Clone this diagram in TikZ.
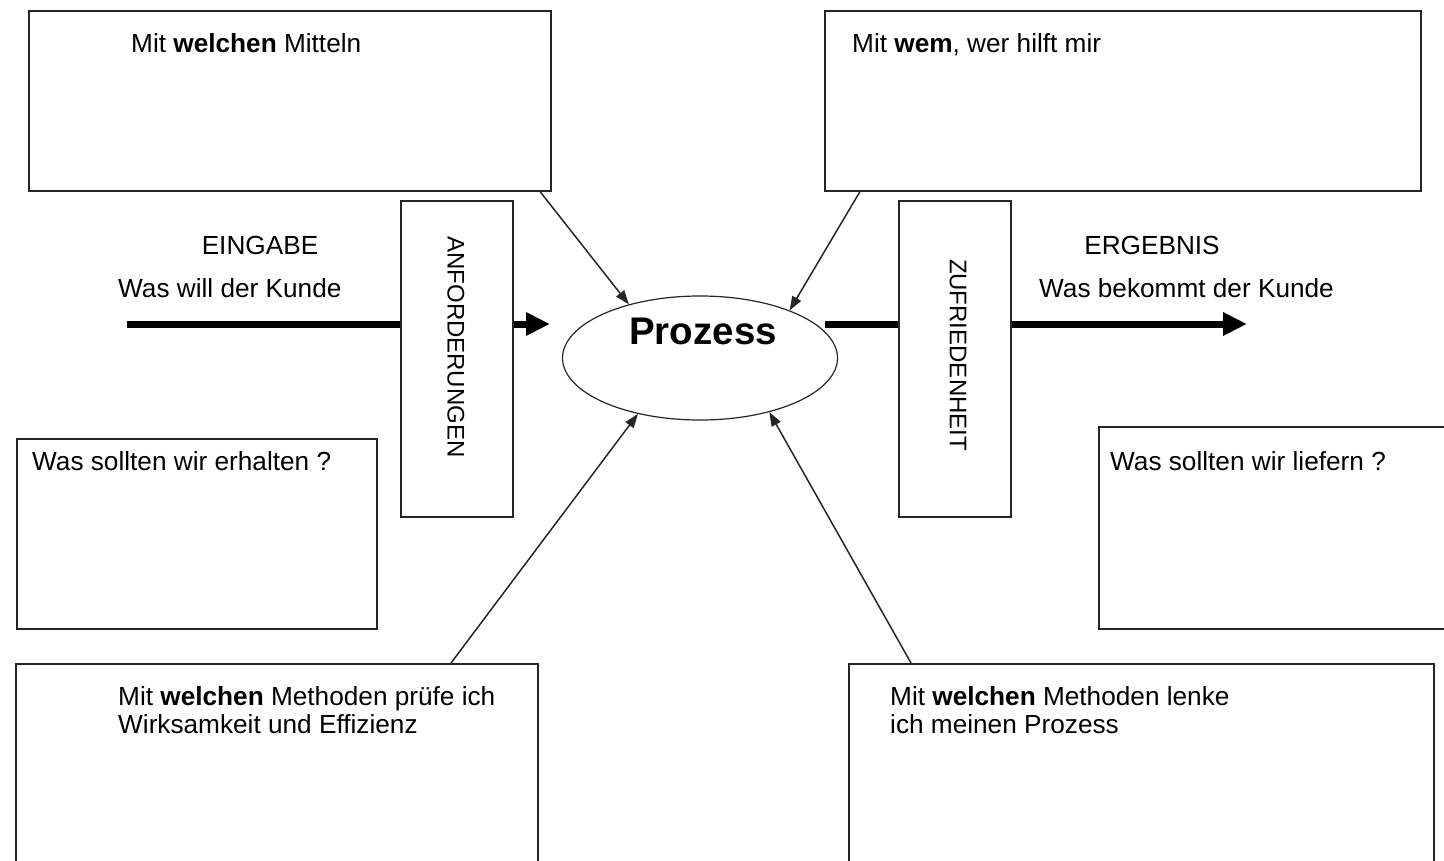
\documentclass[tikz,border=0pt]{standalone}
\usepackage{fontspec}
\setmainfont{Liberation Sans}
\usetikzlibrary{shapes.geometric,arrows.meta,calc}
\begin{document}
\begin{tikzpicture}[x=1pt,y=-1pt,
  box/.style={draw=black!85, line width=1.5pt, rectangle, inner sep=0pt, anchor=north west},
  txt/.style={anchor=base west, inner sep=0pt, font=\fontsize{26.2}{28}\selectfont},
  ctxt/.style={anchor=base, inner sep=0pt, font=\fontsize{26.2}{28}\selectfont},
  vtxt/.style={rotate=-90, inner sep=0pt, font=\fontsize{24}{26}\selectfont},
  thinarrow/.style={draw=black!85, line width=1.5pt, -{Triangle[length=14pt,width=10pt]}},
  thickline/.style={line width=7pt},
  thickarrow/.style={line width=7pt, -{Triangle[length=24pt,width=22pt]}}
]
\clip (0,0) rectangle (1444,860);
\fill[white] (0,0) rectangle (1444,860);

% boxes
\node[box, minimum width=522pt, minimum height=180pt] (tl) at (28,10) {};
\node[box, minimum width=596pt, minimum height=180pt] (tr) at (824,10) {};
\node[box, minimum width=360pt, minimum height=190pt] (ml) at (16,438) {};
\node[box, minimum width=380pt, minimum height=202pt] (mr) at (1098,426) {};
\node[box, minimum width=522pt, minimum height=230pt] (bl) at (15,663) {};
\node[box, minimum width=585pt, minimum height=230pt] (br) at (848,663) {};
\node[box, minimum width=112pt, minimum height=316pt] (anf) at (400,200) {};
\node[box, minimum width=112pt, minimum height=316pt] (zuf) at (898,200) {};

% process ellipse
\node[draw=black!85, line width=1.2pt, ellipse, minimum width=275pt, minimum height=124pt, inner sep=0pt] (proc) at (700,358) {};
\node[inner sep=0pt, font=\fontsize{38.5}{40}\selectfont\bfseries] (proclabel) at (703,331) {Prozess};

% texts
\node[txt] (ttl) at (131,52) {Mit \textbf{welchen} Mitteln};
\node[txt] (ttr) at (852,52) {Mit \textbf{wem}, wer hilft mir};
\node[ctxt] (eing) at (260,254) {EINGABE};
\node[txt] (kunde1) at (118,297) {Was will der Kunde};
\node[ctxt] (erg) at (1152,254) {ERGEBNIS};
\node[txt] (kunde2) at (1039,297) {Was bekommt der Kunde};
\node[txt] (tml) at (32,470) {Was sollten wir erhalten ?};
\node[txt] (tmr) at (1110,470) {Was sollten wir liefern ?};
\node[txt] (tbl1) at (118,705) {Mit \textbf{welchen} Methoden prüfe ich};
\node[txt] (tbl2) at (118,733) {Wirksamkeit und Effizienz};
\node[txt] (tbr1) at (890,705) {Mit \textbf{welchen} Methoden lenke};
\node[txt] (tbr2) at (890,733) {ich meinen Prozess};
\node[vtxt] (anflabel) at (456,347) {ANFORDERUNGEN};
\node[vtxt] (zuflabel) at (958,355) {ZUFRIEDENHEIT};

% thick flow
\coordinate (instart) at (127,324);
\coordinate (intip) at (550,324);
\coordinate (outstart) at (825,324);
\coordinate (outtip) at (1247,324);
\draw[thickline] (instart) -- (instart -| anf.west);
\draw[thickarrow] (instart -| anf.east) -- (intip);
\draw[thickline] (outstart) -- (outstart -| zuf.west);
\draw[thickarrow] (outstart -| zuf.east) -- (outtip);

% thin arrows
\draw[thinarrow] ($(tl.south west)+(512,0)$) -- (proc.143);
\draw[thinarrow] ($(tr.south west)+(36,0)$) -- (proc.28);
\draw[thinarrow] ($(bl.north west)+(436,0)$) -- (proc.222);
\draw[thinarrow] ($(br.north west)+(63,0)$) -- (proc.322);
\end{tikzpicture}
\end{document}
